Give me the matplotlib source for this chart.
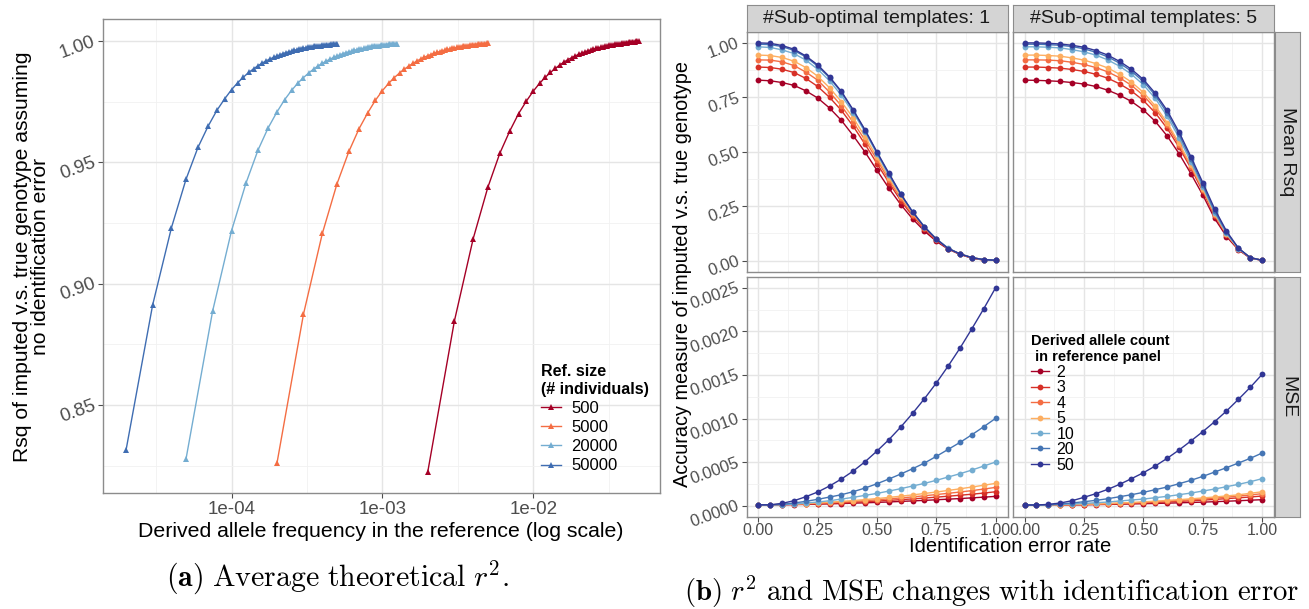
import matplotlib
matplotlib.use("Agg")
import matplotlib.pyplot as plt
from matplotlib.ticker import FixedLocator

plt.rcParams["font.family"] = ["Liberation Sans", "DejaVu Sans"]
plt.rcParams["mathtext.fontset"] = "cm"

W, H = 1309, 609

# ------------------------------------------------------------------
# (a) theoretical r^2 against derived allele frequency
# ------------------------------------------------------------------
ref_sizes = [500, 5000, 20000, 50000]
ref_labels = ["500", "5000", "20000", "50000"]
ref_colors = ["#a50026", "#f46d43", "#74add1", "#3f6db2"]
allele_counts = list(range(2, 51))

rsq_500 = [
    0.8226, 0.8846, 0.9186, 0.9397, 0.9537, 0.9630, 0.9701, 0.9752, 0.9793, 0.9825,
    0.9850, 0.9870, 0.9887, 0.9901, 0.9913, 0.9923, 0.9931, 0.9938, 0.9945, 0.9950,
    0.9955, 0.9959, 0.9963, 0.9966, 0.9969, 0.9972, 0.9974, 0.9976, 0.9978, 0.9980,
    0.9982, 0.9983, 0.9985, 0.9986, 0.9987, 0.9988, 0.9989, 0.9990, 0.9991, 0.9992,
    0.9993, 0.9994, 0.9995, 0.9996, 0.9996, 0.9997, 0.9998, 0.9999, 1.0000,
]
rsq_5000 = [
    0.8260, 0.8875, 0.9207, 0.9411, 0.9545, 0.9638, 0.9704, 0.9756, 0.9795, 0.9825,
    0.9849, 0.9868, 0.9884, 0.9897, 0.9908, 0.9918, 0.9926, 0.9933, 0.9939, 0.9944,
    0.9949, 0.9953, 0.9956, 0.9960, 0.9962, 0.9965, 0.9967, 0.9969, 0.9971, 0.9973,
    0.9975, 0.9976, 0.9977, 0.9979, 0.9980, 0.9981, 0.9982, 0.9983, 0.9984, 0.9985,
    0.9985, 0.9986, 0.9987, 0.9987, 0.9988, 0.9989, 0.9989, 0.9990, 0.9990,
]
rsq_20000 = [
    0.8280, 0.8888, 0.9218, 0.9416, 0.9551, 0.9642, 0.9707, 0.9758, 0.9796, 0.9826,
    0.9849, 0.9868, 0.9884, 0.9897, 0.9908, 0.9917, 0.9925, 0.9932, 0.9938, 0.9943,
    0.9948, 0.9952, 0.9955, 0.9958, 0.9961, 0.9964, 0.9966, 0.9968, 0.9970, 0.9972,
    0.9974, 0.9975, 0.9977, 0.9978, 0.9979, 0.9980, 0.9981, 0.9982, 0.9983, 0.9984,
    0.9984, 0.9985, 0.9986, 0.9986, 0.9987, 0.9987, 0.9988, 0.9988, 0.9989,
]
rsq_50000 = [
    0.8315, 0.8912, 0.9231, 0.9431, 0.9562, 0.9649, 0.9714, 0.9761, 0.9799, 0.9828,
    0.9851, 0.9870, 0.9885, 0.9898, 0.9909, 0.9918, 0.9926, 0.9932, 0.9938, 0.9943,
    0.9948, 0.9952, 0.9955, 0.9958, 0.9961, 0.9964, 0.9966, 0.9968, 0.9970, 0.9972,
    0.9973, 0.9975, 0.9976, 0.9977, 0.9978, 0.9979, 0.9980, 0.9981, 0.9982, 0.9983,
    0.9983, 0.9984, 0.9985, 0.9985, 0.9986, 0.9986, 0.9987, 0.9987, 0.9988,
]
rsq_by_size = [rsq_500, rsq_5000, rsq_20000, rsq_50000]

# ------------------------------------------------------------------
# (b) Rsq / MSE against identification error rate
# ------------------------------------------------------------------
error_rate = [0.00, 0.05, 0.10, 0.15, 0.20, 0.25, 0.30, 0.35, 0.40, 0.45, 0.50,
              0.55, 0.60, 0.65, 0.70, 0.75, 0.80, 0.85, 0.90, 0.95, 1.00]
count_labels = ["2", "3", "4", "5", "10", "20", "50"]
count_colors = ["#a50026", "#d73027", "#f46d43", "#fdae61",
                "#74add1", "#4575b4", "#313695"]
facet_labels = ["#Sub-optimal templates: 1", "#Sub-optimal templates: 5"]
row_labels = ["Mean Rsq", "MSE"]

rsq_t1 = [
    [0.829, 0.826, 0.818, 0.805, 0.780, 0.747, 0.701, 0.644, 0.574, 0.498, 0.415,
     0.333, 0.258, 0.192, 0.136, 0.089, 0.053, 0.029, 0.012, 0.003, 0.002],
    [0.889, 0.887, 0.879, 0.864, 0.837, 0.800, 0.750, 0.690, 0.617, 0.534, 0.446,
     0.359, 0.276, 0.205, 0.145, 0.095, 0.055, 0.029, 0.012, 0.003, 0.002],
    [0.922, 0.921, 0.913, 0.896, 0.866, 0.829, 0.774, 0.711, 0.635, 0.553, 0.463,
     0.371, 0.287, 0.212, 0.150, 0.098, 0.056, 0.031, 0.014, 0.005, 0.002],
    [0.944, 0.942, 0.933, 0.916, 0.887, 0.847, 0.794, 0.730, 0.655, 0.569, 0.475,
     0.380, 0.295, 0.218, 0.153, 0.099, 0.056, 0.031, 0.014, 0.005, 0.002],
    [0.982, 0.979, 0.968, 0.951, 0.921, 0.879, 0.826, 0.759, 0.679, 0.591, 0.490,
     0.392, 0.304, 0.224, 0.156, 0.101, 0.058, 0.031, 0.014, 0.005, 0.002],
    [0.994, 0.992, 0.983, 0.965, 0.936, 0.893, 0.840, 0.773, 0.689, 0.597, 0.496,
     0.398, 0.305, 0.224, 0.156, 0.099, 0.056, 0.031, 0.014, 0.005, 0.002],
    [1.000, 0.998, 0.988, 0.971, 0.940, 0.899, 0.844, 0.777, 0.692, 0.600, 0.499,
     0.402, 0.307, 0.224, 0.154, 0.099, 0.056, 0.031, 0.014, 0.005, 0.002],
]
rsq_t5 = [
    [0.829, 0.828, 0.826, 0.823, 0.818, 0.811, 0.800, 0.783, 0.760, 0.731, 0.692,
     0.640, 0.573, 0.492, 0.400, 0.302, 0.194, 0.111, 0.050, 0.012, 0.002],
    [0.889, 0.889, 0.887, 0.884, 0.878, 0.869, 0.856, 0.838, 0.812, 0.779, 0.736,
     0.679, 0.608, 0.521, 0.425, 0.319, 0.206, 0.118, 0.053, 0.012, 0.002],
    [0.922, 0.922, 0.921, 0.918, 0.911, 0.901, 0.887, 0.867, 0.840, 0.805, 0.759,
     0.699, 0.623, 0.533, 0.432, 0.325, 0.211, 0.121, 0.055, 0.014, 0.002],
    [0.944, 0.944, 0.942, 0.939, 0.931, 0.921, 0.905, 0.885, 0.856, 0.820, 0.773,
     0.711, 0.634, 0.541, 0.438, 0.330, 0.214, 0.122, 0.055, 0.014, 0.002],
    [0.982, 0.982, 0.980, 0.977, 0.969, 0.959, 0.944, 0.922, 0.893, 0.856, 0.808,
     0.745, 0.664, 0.565, 0.453, 0.339, 0.220, 0.125, 0.056, 0.014, 0.002],
    [0.994, 0.994, 0.992, 0.989, 0.983, 0.973, 0.957, 0.936, 0.907, 0.870, 0.823,
     0.760, 0.679, 0.580, 0.466, 0.348, 0.227, 0.131, 0.058, 0.014, 0.002],
    [1.000, 1.000, 0.998, 0.995, 0.989, 0.980, 0.965, 0.944, 0.915, 0.879, 0.832,
     0.769, 0.690, 0.591, 0.478, 0.359, 0.238, 0.136, 0.058, 0.014, 0.002],
]
mse_t1 = [
    [0.000010, 0.000010, 0.000011, 0.000013, 0.000015, 0.000018, 0.000021,
     0.000025, 0.000029, 0.000033, 0.000038, 0.000043, 0.000049, 0.000055,
     0.000061, 0.000068, 0.000075, 0.000082, 0.000090, 0.000098, 0.000107],
    [0.000010, 0.000011, 0.000012, 0.000015, 0.000019, 0.000023, 0.000028,
     0.000033, 0.000039, 0.000046, 0.000053, 0.000061, 0.000069, 0.000078,
     0.000088, 0.000098, 0.000109, 0.000120, 0.000132, 0.000145, 0.000160],
    [0.000010, 0.000011, 0.000013, 0.000017, 0.000022, 0.000028, 0.000034,
     0.000041, 0.000049, 0.000058, 0.000068, 0.000078, 0.000089, 0.000101,
     0.000114, 0.000128, 0.000142, 0.000157, 0.000173, 0.000191, 0.000210],
    [0.000010, 0.000011, 0.000014, 0.000019, 0.000025, 0.000032, 0.000040,
     0.000049, 0.000059, 0.000070, 0.000082, 0.000095, 0.000109, 0.000124,
     0.000140, 0.000157, 0.000175, 0.000194, 0.000214, 0.000235, 0.000256],
    [0.000010, 0.000010, 0.000011, 0.000019, 0.000031, 0.000042, 0.000057,
     0.000076, 0.000096, 0.000119, 0.000141, 0.000168, 0.000195, 0.000226,
     0.000256, 0.000291, 0.000329, 0.000367, 0.000409, 0.000455, 0.000501],
    [0.000010, 0.000010, 0.000015, 0.000031, 0.000050, 0.000073, 0.000099,
     0.000126, 0.000161, 0.000203, 0.000252, 0.000306, 0.000363, 0.000424,
     0.000489, 0.000566, 0.000646, 0.000726, 0.000814, 0.000906, 0.001002],
    [0.000010, 0.000010, 0.000027, 0.000057, 0.000103, 0.000157, 0.000226,
     0.000306, 0.000398, 0.000505, 0.000627, 0.000757, 0.000902, 0.001059,
     0.001227, 0.001407, 0.001602, 0.001808, 0.002030, 0.002259, 0.002500],
]
mse_t5 = [
    [0.000008, 0.000008, 0.000008, 0.000009, 0.000010, 0.000011, 0.000013,
     0.000015, 0.000017, 0.000020, 0.000023, 0.000026, 0.000029, 0.000033,
     0.000037, 0.000041, 0.000046, 0.000051, 0.000057, 0.000063, 0.000069],
    [0.000008, 0.000008, 0.000009, 0.000010, 0.000011, 0.000013, 0.000016,
     0.000019, 0.000023, 0.000027, 0.000032, 0.000037, 0.000043, 0.000049,
     0.000056, 0.000064, 0.000072, 0.000081, 0.000090, 0.000100, 0.000111],
    [0.000008, 0.000008, 0.000009, 0.000010, 0.000012, 0.000015, 0.000018,
     0.000022, 0.000027, 0.000032, 0.000038, 0.000045, 0.000052, 0.000060,
     0.000068, 0.000077, 0.000087, 0.000098, 0.000110, 0.000123, 0.000138],
    [0.000008, 0.000008, 0.000009, 0.000011, 0.000014, 0.000017, 0.000021,
     0.000026, 0.000031, 0.000037, 0.000044, 0.000052, 0.000060, 0.000069,
     0.000079, 0.000089, 0.000100, 0.000112, 0.000125, 0.000142, 0.000160],
    [0.000008, 0.000008, 0.000008, 0.000015, 0.000019, 0.000027, 0.000034,
     0.000042, 0.000054, 0.000065, 0.000076, 0.000092, 0.000107, 0.000126,
     0.000145, 0.000168, 0.000191, 0.000218, 0.000245, 0.000275, 0.000310],
    [0.000008, 0.000008, 0.000011, 0.000019, 0.000031, 0.000046, 0.000061,
     0.000080, 0.000103, 0.000126, 0.000153, 0.000184, 0.000214, 0.000252,
     0.000291, 0.000336, 0.000386, 0.000436, 0.000489, 0.000543, 0.000604],
    [0.000008, 0.000008, 0.000015, 0.000031, 0.000057, 0.000096, 0.000138,
     0.000187, 0.000245, 0.000310, 0.000378, 0.000455, 0.000543, 0.000638,
     0.000742, 0.000849, 0.000963, 0.001086, 0.001219, 0.001357, 0.001506],
]

TICK_GREY = "#4d4d4d"
BORDER = "#8c8c8c"
GRID_MAJOR = "#e5e5e5"
GRID_MINOR = "#f1f1f1"


def px_box(x0, y0, x1, y1):
    """Pixel box (top-left origin) -> figure fraction rect."""
    return [x0 / W, 1 - y1 / H, (x1 - x0) / W, (y1 - y0) / H]


def style_panel(ax, labelsize):
    for sp in ax.spines.values():
        sp.set_color(BORDER)
        sp.set_linewidth(1.0)
    ax.set_axisbelow(True)
    ax.grid(which="major", color=GRID_MAJOR, lw=1.0)
    ax.grid(which="minor", color=GRID_MINOR, lw=0.6)
    ax.tick_params(which="major", length=3.5, width=0.8, color=TICK_GREY,
                   labelcolor=TICK_GREY, labelsize=labelsize, pad=2)
    ax.tick_params(which="minor", length=0)


def rotate_ylabels(ax, angle=20):
    for lab in ax.get_yticklabels():
        lab.set_rotation(angle)
        lab.set_rotation_mode("anchor")
        lab.set_ha("right")
        lab.set_va("center")


fig = plt.figure(figsize=(W / 100, H / 100), dpi=100)

# ---------------------------- panel (a) ----------------------------
ax_a = fig.add_axes(px_box(102.5, 19.3, 660, 493.3))
for n, rsq, color, label in zip(ref_sizes, rsq_by_size, ref_colors, ref_labels):
    freq = [k / (2 * n) for k in allele_counts]
    ax_a.plot(freq, rsq, color=color, lw=1.0, marker="^", ms=5,
              mew=0, label=label)
ax_a.set_xscale("log")
ax_a.set_xlim(10 ** -4.855, 10 ** -1.16)
ax_a.set_ylim(0.8137, 1.0089)
ax_a.set_xticks([1e-4, 1e-3, 1e-2], ["1e-04", "1e-03", "1e-02"])
ax_a.xaxis.set_minor_locator(FixedLocator([10 ** -4.5, 10 ** -3.5,
                                           10 ** -2.5, 10 ** -1.5]))
ax_a.set_yticks([0.85, 0.90, 0.95, 1.00], ["0.85", "0.90", "0.95", "1.00"])
ax_a.yaxis.set_minor_locator(FixedLocator([0.825, 0.875, 0.925, 0.975]))
style_panel(ax_a, 13.5)
rotate_ylabels(ax_a)
ax_a.set_xlabel("Derived allele frequency in the reference (log scale)",
                fontsize=15.3, labelpad=3)
ax_a.set_ylabel("Rsq of imputed v.s. true genotype assuming\n"
                "no identification error", fontsize=15.2, linespacing=0.95,
                labelpad=5)

leg_a = ax_a.legend(
    loc="upper left", bbox_to_anchor=(533 / W, 1 - 356 / H),
    bbox_transform=fig.transFigure, frameon=False,
    title="Ref. size\n(# individuals)",
    title_fontproperties={"weight": "bold", "size": 11.5},
    fontsize=12, handlelength=1.2, handletextpad=0.6,
    labelspacing=0.25, borderpad=0, alignment="left",
)

# ---------------------------- panel (b) ----------------------------
col_x = [(746.5, 1007.5), (1012.7, 1274)]
row_y = [(32, 271.6), (276.8, 516.6)]
panel_data = [[rsq_t1, rsq_t5], [mse_t1, mse_t5]]

axes_b = [[None, None], [None, None]]
for r in range(2):
    for c in range(2):
        x0, x1 = col_x[c]
        y0, y1 = row_y[r]
        ax = fig.add_axes(px_box(x0, y0, x1, y1))
        axes_b[r][c] = ax
        for vals, color, label in zip(panel_data[r][c], count_colors,
                                      count_labels):
            ax.plot(error_rate, vals, color=color, lw=1.0, marker="o",
                    ms=4.2, mew=0, label=label)
        ax.set_xlim(-0.05, 1.05)
        ax.set_xticks([0, 0.25, 0.5, 0.75, 1.0])
        ax.xaxis.set_minor_locator(FixedLocator([0.125, 0.375, 0.625, 0.875]))
        if r == 0:
            ax.set_ylim(-0.05, 1.05)
            ax.set_yticks([0, 0.25, 0.5, 0.75, 1.0],
                          ["0.00", "0.25", "0.50", "0.75", "1.00"])
            ax.yaxis.set_minor_locator(
                FixedLocator([0.125, 0.375, 0.625, 0.875]))
        else:
            ax.set_ylim(-0.000125, 0.002625)
            ax.set_yticks([0, 0.0005, 0.001, 0.0015, 0.002, 0.0025],
                          ["0.0000", "0.0005", "0.0010", "0.0015",
                           "0.0020", "0.0025"])
            ax.yaxis.set_minor_locator(FixedLocator(
                [0.00025, 0.00075, 0.00125, 0.00175, 0.00225]))
        style_panel(ax, 11.5)
        if r == 0:
            ax.tick_params(axis="x", which="both", labelbottom=False,
                           length=0)
        else:
            ax.set_xticklabels(["0.00", "0.25", "0.50", "0.75", "1.00"])
            ax.tick_params(axis="x", pad=1)
        if c == 1:
            ax.tick_params(axis="y", which="both", labelleft=False, length=0)
        else:
            ax.tick_params(axis="y", labelsize=12)
            rotate_ylabels(ax)

# facet strips along the top
for c in range(2):
    x0, x1 = col_x[c]
    sax = fig.add_axes(px_box(x0, 5, x1, 32))
    sax.set_facecolor("#d4d4d4")
    sax.set_xticks([])
    sax.set_yticks([])
    for sp in sax.spines.values():
        sp.set_color(BORDER)
    sax.text(0.5, 0.5, facet_labels[c], ha="center", va="center",
             fontsize=14, color="#1a1a1a", transform=sax.transAxes)

# facet strips on the right
for r in range(2):
    y0, y1 = row_y[r]
    sax = fig.add_axes(px_box(1275, y0, 1300, y1))
    sax.set_facecolor("#d4d4d4")
    sax.set_xticks([])
    sax.set_yticks([])
    for sp in sax.spines.values():
        sp.set_color(BORDER)
    sax.text(0.5, 0.5, row_labels[r], ha="center", va="center", rotation=-90,
             fontsize=14, color="#1a1a1a", transform=sax.transAxes)

fig.text(683 / W, 1 - 274 / H, "Accuracy measure of imputed v.s. true genotype",
         rotation=90, ha="center", va="center", fontsize=14.3)
fig.text(1010 / W, 1 - 547 / H, "Identification error rate",
         ha="center", va="center", fontsize=14.5)

leg_b = axes_b[1][1].legend(
    loc="upper left", bbox_to_anchor=(1023 / W, 1 - 326 / H),
    bbox_transform=fig.transFigure, frameon=False,
    title="Derived allele count\n in reference panel",
    title_fontproperties={"weight": "bold", "size": 10.5},
    fontsize=11.5, handlelength=1.1, handletextpad=0.5,
    labelspacing=0.03, borderpad=0, alignment="left",
)

# sub-figure captions
fig.text(338 / W, 1 - 578 / H,
         r"$\mathbf{(a)}\ \mathrm{Average\ theoretical}\ r^2.$",
         ha="center", va="center", fontsize=21.5)
fig.text(684 / W, 1 - 592 / H,
         r"$\mathbf{(b)}\ r^2\ \mathrm{and\ MSE\ changes\ with\ identification\ error}$",
         ha="left", va="center", fontsize=20.8)

fig.savefig("out.png", dpi=100)
plt.close(fig)
